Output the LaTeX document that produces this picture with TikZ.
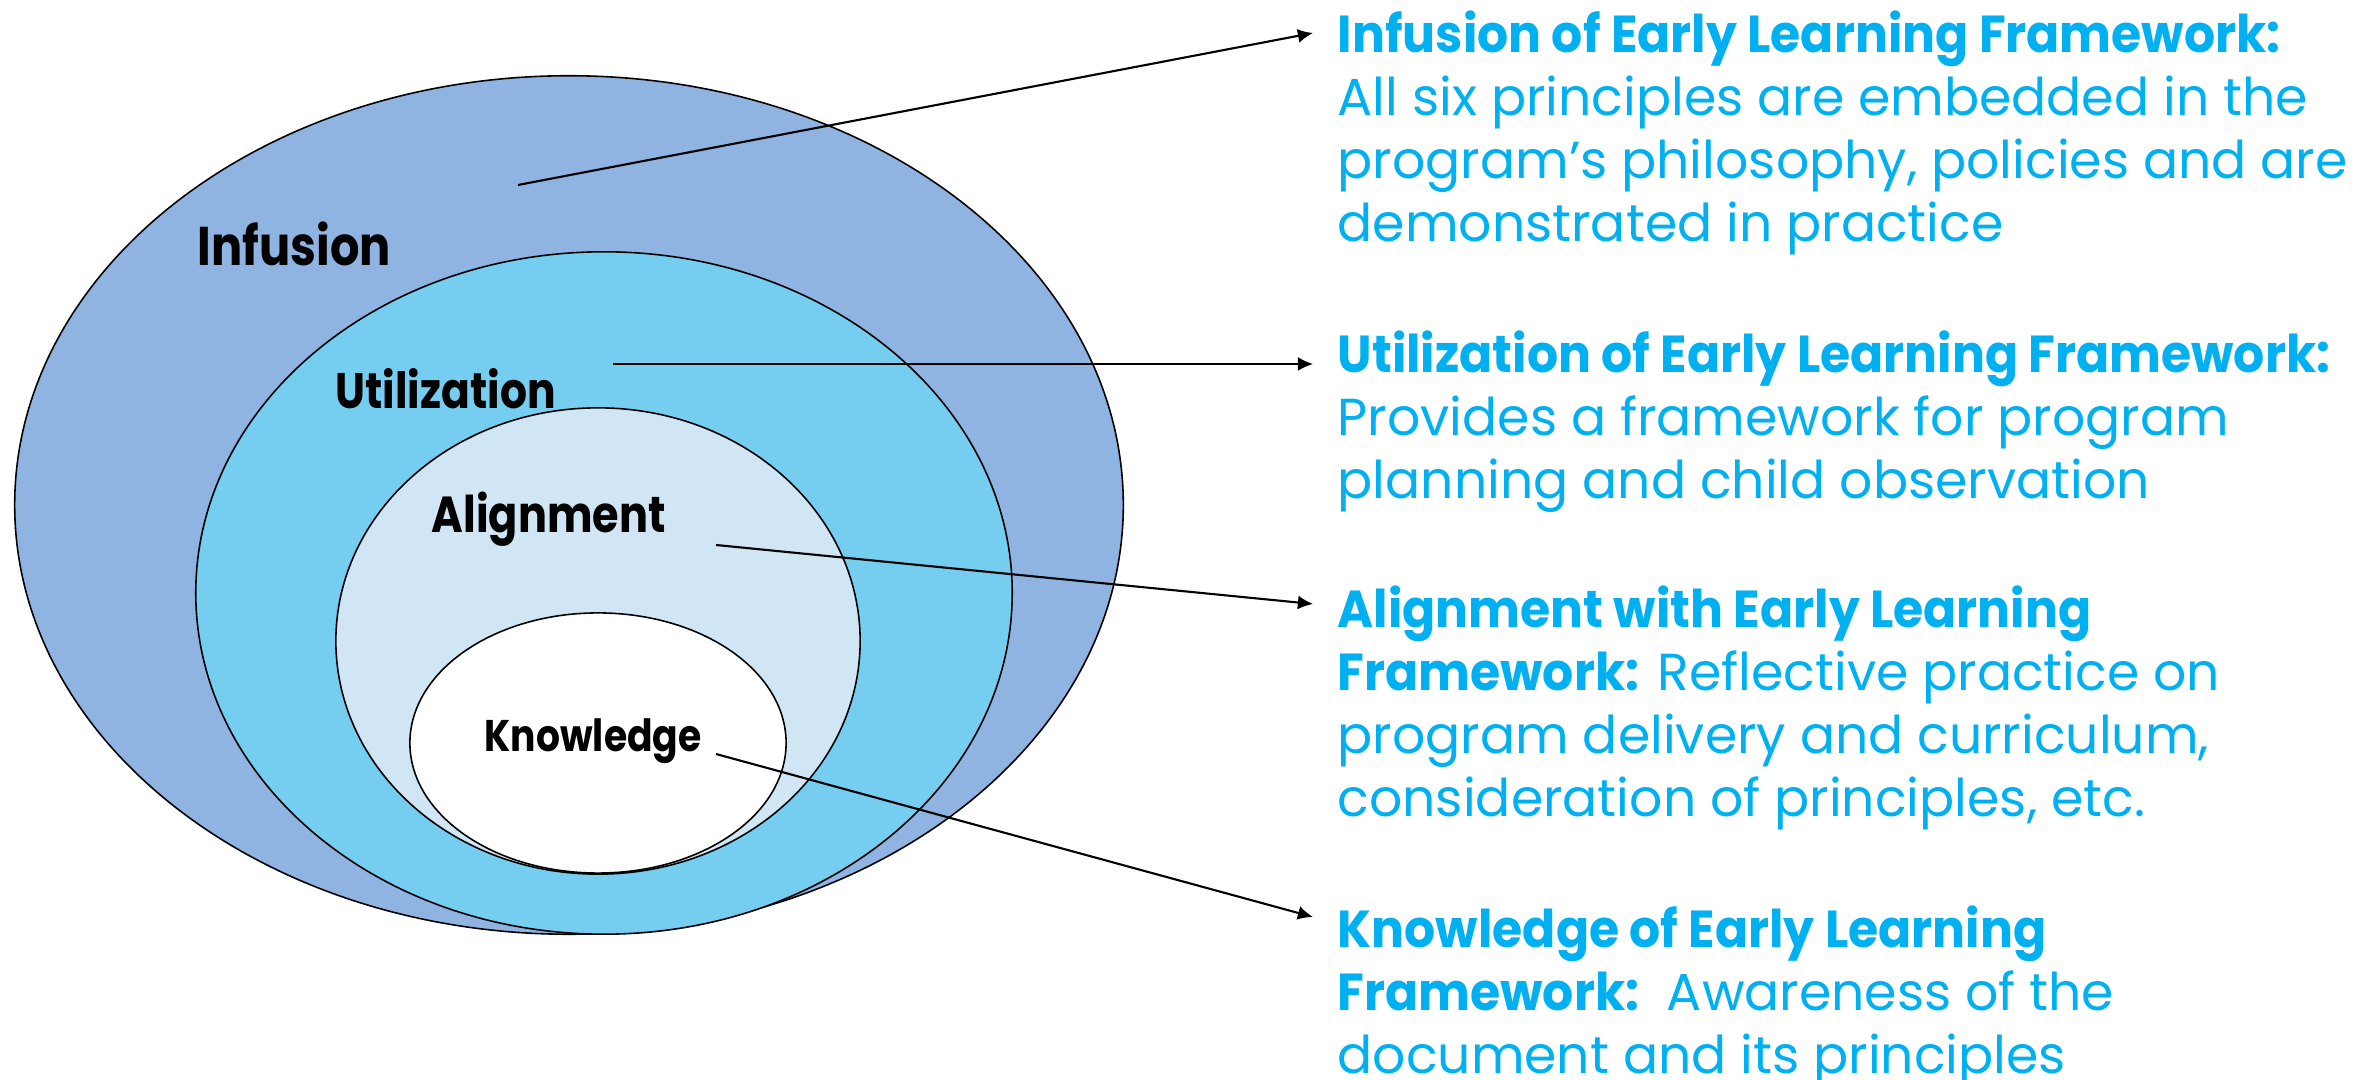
\documentclass[tikz,border=0pt]{standalone}
\usepackage{fontspec}
\setmainfont{Poppins}[BoldFeatures={FakeStretch=0.94}]
\newfontfamily\lvlfont{Poppins}[BoldFeatures={FakeStretch=0.85}]
\usetikzlibrary{arrows.meta,shapes.geometric}
\definecolor{infblue}{RGB}{143,180,225}
\definecolor{utilblue}{RGB}{117,205,240}
\definecolor{alignblue}{RGB}{209,230,245}
\definecolor{textcyan}{RGB}{0,176,240}

\begin{document}
\begin{tikzpicture}
	 [x=0.01cm,y=-0.01cm,
	 ring/.style={ellipse,draw=black,line width=0.45pt,inner sep=0pt},
	 lvl/.style={anchor=base west,inner sep=0pt},
	 desc/.style={anchor=north west,inner sep=0pt,align=left,text=textcyan,font=\fontsize{14.8}{17.9}\selectfont},
	 pointer/.style={line width=0.6pt,-{Latex[length=4.3pt,width=4pt]}}]
	\useasboundingbox (0,0) rectangle (2369,1080);

	  \node (inf)[ring,fill=infblue,minimum width=11.08cm,minimum height=8.58cm] at (569,505) {};
	  \node (util)[ring,fill=utilblue,minimum width=8.16cm,minimum height=6.82cm] at (604,593) {};
	  \node (align)[ring,fill=alignblue,minimum width=5.24cm,minimum height=4.66cm] at (598,641) {};
	  \node (know)[ring,fill=white,minimum width=3.76cm,minimum height=2.6cm] at (598,743) {};

	\coordinate (p1) at (518,185);
	\coordinate (p2) at (613,364);
	\coordinate (p3) at (716,545);
	\coordinate (p4) at (716,754);

	\coordinate (q1) at (1313,33);
	\coordinate (q2) at (1313,364);
	\coordinate (q3) at (1313,604);
	\coordinate (q4) at (1313,917);

	\foreach \from/\to in {p1/q1,p2/q2,p3/q3,p4/q4}
    \draw[pointer] (\from) -- (\to);

	\node (infl)[lvl,font=\lvlfont\bfseries\fontsize{15.5}{18}\selectfont] at (197,266) {Infusion};
	\node (utill)[lvl,font=\lvlfont\bfseries\fontsize{14.2}{17}\selectfont] at (335,409) {Utilization};
	\node (alignl)[lvl,font=\lvlfont\bfseries\fontsize{14.4}{17}\selectfont] at (431,533) {Alignment};
	\node (knowl)[lvl,font=\lvlfont\bfseries\fontsize{12.6}{14}\selectfont] at (484,752) {Knowledge};

	\node (inft)[desc] at (1337,10) {\textbf{Infusion of Early Learning Framework:}\\
		All six principles are embedded in the\\
		program’s philosophy, policies and are\\
		demonstrated in practice};
	\node (utilt)[desc] at (1337,330) {\textbf{Utilization of Early Learning Framework:}\\
		Provides a framework for program\\
		planning and child observation};
	\node (alignt)[desc] at (1337,585) {\textbf{Alignment with Early Learning}\\
		\textbf{Framework:} Reflective practice on\\
		program delivery and curriculum,\\
		consideration of principles, etc.};
	\node (knowt)[desc] at (1337,905) {\textbf{Knowledge of Early Learning}\\
		\textbf{Framework:}\ \ Awareness of the\\
		document and its principles};

\end{tikzpicture}
\end{document}
